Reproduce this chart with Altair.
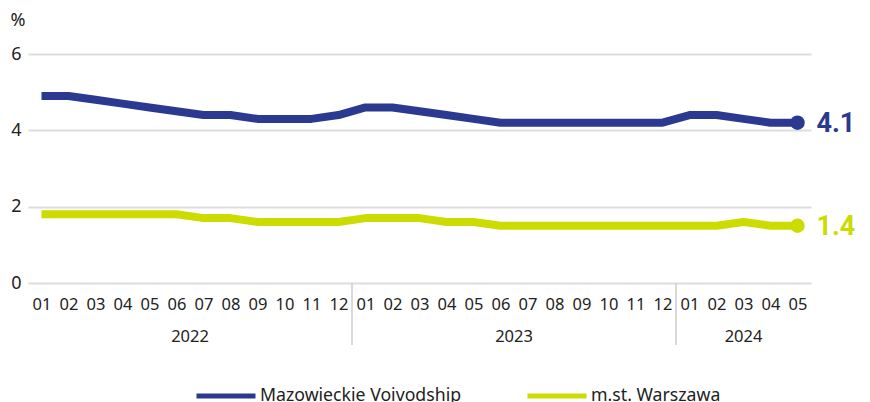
import altair as alt
import pandas as pd

# ---- data ----
months = ["01", "02", "03", "04", "05", "06", "07", "08", "09", "10", "11", "12",
          "01", "02", "03", "04", "05", "06", "07", "08", "09", "10", "11", "12",
          "01", "02", "03", "04", "05"]
years = ["2022"] * 12 + ["2023"] * 12 + ["2024"] * 5
mazowieckie = [4.9, 4.9, 4.8, 4.7, 4.6, 4.5, 4.4, 4.4, 4.3, 4.3, 4.3, 4.4,
               4.6, 4.6, 4.5, 4.4, 4.3, 4.2, 4.2, 4.2, 4.2, 4.2, 4.2, 4.2,
               4.4, 4.4, 4.3, 4.2, 4.2]
warszawa = [1.8, 1.8, 1.8, 1.8, 1.8, 1.8, 1.7, 1.7, 1.6, 1.6, 1.6, 1.6,
            1.7, 1.7, 1.7, 1.6, 1.6, 1.5, 1.5, 1.5, 1.5, 1.5, 1.5, 1.5,
            1.5, 1.5, 1.6, 1.5, 1.5]
series_names = ["Mazowieckie Voivodship", "m.st. Warszawa"]
series_colors = ["#2b3990", "#cddc00"]
end_labels = ["4.1", "1.4"]
year_labels = ["2022", "2023", "2024"]
year_centers = [5.5, 17.5, 26]
year_separators = [11.5, 23.5]
y_ticks = [0, 2, 4, 6]

FONT = "Noto Sans"

rows = []
for i in range(len(months)):
    rows.append({"idx": i, "series": series_names[0], "value": mazowieckie[i]})
    rows.append({"idx": i, "series": series_names[1], "value": warszawa[i]})
df = pd.DataFrame(rows)

last = len(months) - 1
df_end = pd.DataFrame({
    "idx": [last, last],
    "series": series_names,
    "value": [mazowieckie[last], warszawa[last]],
    "label": end_labels,
})
df_years = pd.DataFrame({"pos": year_centers, "year": year_labels})
df_sep = pd.DataFrame({"pos": year_separators})

month_arr = "[" + ",".join("'%s'" % m for m in months) + "]"

xscale = alt.Scale(domain=[-0.5, len(months) - 0.5], nice=False, zero=False)
yscale = alt.Scale(domain=[0, 6], nice=False)
cscale = alt.Scale(domain=series_names, range=series_colors)

x_axis = alt.Axis(values=list(range(len(months))), tickCount=60,
                  labelExpr=month_arr + "[datum.value]",
                  grid=False, ticks=False, domain=False, labelFontSize=16.5,
                  labelPadding=13, labelFlush=False, labelOverlap=False,
                  labelColor="#222222", labelFont=FONT, title=None)
y_axis = alt.Axis(values=y_ticks, grid=True, gridColor="#dddddd", gridWidth=2,
                  domain=False, ticks=False, labelFontSize=18, labelPadding=7,
                  labelColor="#222222", labelFont=FONT,
                  title="%", titleAngle=0, titleX=-18, titleY=-34, titleAlign="left",
                  titleBaseline="middle", titleFontSize=18, titleFontWeight="normal",
                  titleFont=FONT, titleColor="#222222")

base = alt.Chart(df)

lines = base.mark_line(strokeWidth=8, strokeCap="butt", strokeJoin="round").encode(
    x=alt.X("idx:Q", scale=xscale, axis=x_axis),
    y=alt.Y("value:Q", scale=yscale, axis=y_axis),
    color=alt.Color("series:N", scale=cscale, sort=series_names,
                    legend=alt.Legend(orient="none", legendX=166, legendY=310,
                                      direction="horizontal", title=None,
                                      symbolType="stroke", symbolSize=3481,
                                      symbolStrokeWidth=5, labelFontSize=17.7,
                                      labelFont=FONT, labelColor="#222222",
                                      labelOffset=2, columnPadding=55,
                                      labelLimit=400)),
)

dots = alt.Chart(df_end).mark_point(filled=True, size=210, opacity=1).encode(
    x=alt.X("idx:Q", scale=xscale),
    y=alt.Y("value:Q", scale=yscale),
    color=alt.Color("series:N", scale=cscale, legend=None),
)

end_text = alt.Chart(df_end).mark_text(align="left", baseline="middle", dx=19, dy=1,
                                       fontSize=27, fontWeight="bold",
                                       font="Roboto").encode(
    x=alt.X("idx:Q", scale=xscale),
    y=alt.Y("value:Q", scale=yscale),
    text="label:N",
    color=alt.Color("series:N", scale=cscale, legend=None),
)

year_text = alt.Chart(df_years).mark_text(baseline="middle", fontSize=16.5, font=FONT,
                                          color="#222222").encode(
    x=alt.X("pos:Q", scale=xscale),
    y=alt.value(283),
    text="year:N",
)

seps = alt.Chart(df_sep).mark_rule(color="#cccccc", strokeWidth=1.5).encode(
    x=alt.X("pos:Q", scale=xscale),
    y=alt.value(229),
    y2=alt.value(291),
)

chart = alt.layer(seps, lines, dots, end_text, year_text).properties(
    width=783, height=229,
    autosize=alt.AutoSizeParams(type="none"),
    padding={"left": 20, "top": 46, "right": 51, "bottom": 119},
).configure_view(stroke=None)

chart.save("out.html", embed_options={"renderer": "svg", "actions": False})
